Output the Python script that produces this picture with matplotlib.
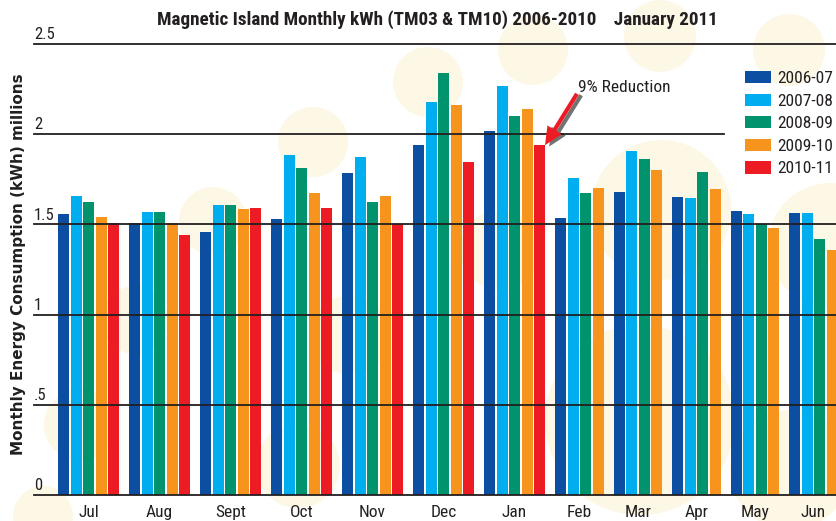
import matplotlib
matplotlib.use("Agg")
import matplotlib.pyplot as plt
from matplotlib import font_manager as fm
from matplotlib.patches import Ellipse
import matplotlib.patheffects as pe


def pick_font(cands):
    for c in cands:
        ws = set()
        for f in fm.fontManager.ttflist:
            if f.name == c and f.style == 'normal':
                try:
                    ws.add(int(f.weight))
                except (TypeError, ValueError):
                    ws.add(700 if 'bold' in str(f.weight) else 400)
        if 400 in ws and 700 in ws:
            return c
    return 'Liberation Sans'


NARROW = pick_font(['Roboto Condensed', 'PT Sans Narrow', 'Asap Condensed',
                    'Barlow Condensed', 'Liberation Sans Narrow'])

# ---------------- data ----------------
months = ['Jul', 'Aug', 'Sept', 'Oct', 'Nov', 'Dec', 'Jan', 'Feb', 'Mar', 'Apr', 'May', 'Jun']
series_labels = ['2006-07', '2007-08', '2008-09', '2009-10', '2010-11']
s2006_07 = [1.556, 1.506, 1.456, 1.528, 1.783, 1.939, 2.017, 1.533, 1.678, 1.650, 1.572, 1.561]
s2007_08 = [1.656, 1.567, 1.606, 1.883, 1.872, 2.178, 2.267, 1.756, 1.906, 1.644, 1.556, 1.561]
s2008_09 = [1.622, 1.567, 1.606, 1.811, 1.622, 2.339, 2.100, 1.672, 1.861, 1.789, 1.500, 1.417]
s2009_10 = [1.539, 1.506, 1.583, 1.672, 1.656, 2.161, 2.139, 1.700, 1.800, 1.694, 1.478, 1.356]
s2010_11 = [1.506, 1.439, 1.589, 1.589, 1.500, 1.844, 1.939, None, None, None, None, None]
ytick_values = [0, 0.5, 1, 1.5, 2, 2.5]
ytick_labels = ['0', '.5', '1', '1.5', '2', '2.5']
title = 'Magnetic Island Monthly kWh (TM03 & TM10) 2006-2010    January 2011'
ylabel = 'Monthly Energy Consumption (kWh) millions'
annotation = '9% Reduction'

colors = ['#0C4FA2', '#00AEEF', '#00936E', '#F7941D', '#ED1C24']
TXT = '#231F20'
series = [s2006_07, s2007_08, s2008_09, s2009_10, s2010_11]

# ---------------- figure ----------------
W, H = 836, 521
fig = plt.figure(figsize=(W / 100, H / 100), dpi=100)
fig.patch.set_facecolor('white')

# decorative pale circles (background)
circ = [(428, 82, 35), (533, 50, 35), (660, 36, 36), (789, 50, 36), (313, 142, 35),
        (213, 221, 34), (661, 210, 70), (830, 245, 62), (135, 320, 34), (80, 425, 36),
        (298, 466, 42), (43, 516, 30), (500, 250, 40), (350, 335, 40), (640, 420, 95),
        (790, 470, 60)]
for cx, cy, r in circ:
    fig.patches.append(Ellipse((cx / W, 1 - cy / H), 2 * r / W, 2 * r / H,
                               transform=fig.transFigure, facecolor='#FDF7E6',
                               edgecolor='none', zorder=-10))

ax_left, ax_right, ax_bottom, ax_top = 34, 836, 495, 44
ax = fig.add_axes([ax_left / W, 1 - ax_bottom / H, (ax_right - ax_left) / W,
                   (ax_bottom - ax_top) / H])
ax.set_facecolor('none')

BW = 0.88
GAP = 0.68
xpos = [[] for _ in series]
hts = [[] for _ in series]
centers = []
x = 0.0
bar_left = {}
for i, m in enumerate(months):
    start = x
    n = 0
    for k, s in enumerate(series):
        if s[i] is None:
            continue
        xpos[k].append(x + BW / 2)
        hts[k].append(s[i])
        bar_left[(i, k)] = x
        x += 1
        n += 1
    centers.append(start + ((n - 1) + BW) / 2)
    x += GAP

for k in range(len(series)):
    ax.bar(xpos[k], hts[k], width=BW, color=colors[k], label=series_labels[k],
           zorder=2, linewidth=0)

ax.set_xlim((ax_left - 58) / 12.5, (ax_right - 58) / 12.5)
ax.set_ylim(0, 2.5)

# horizontal rules
for v in ytick_values:
    xmax = 0.86 if v == 2 else 1.0
    ax.axhline(v, xmin=0, xmax=xmax, color=TXT, lw=1.3, zorder=3, clip_on=False)
for v, lbl in zip(ytick_values, ytick_labels):
    ax.annotate(lbl, xy=(0, v), xycoords=ax.get_yaxis_transform(), xytext=(0, 3.5),
                textcoords='offset points', ha='left', va='baseline',
                fontsize=12, family=NARROW, color=TXT)

for sp in ax.spines.values():
    sp.set_visible(False)
ax.set_yticks([])
ax.set_xticks(centers)
ax.set_xticklabels(months, fontsize=12.5, family=NARROW, color=TXT)
ax.tick_params(axis='x', length=0, pad=7)

# legend
leg = ax.legend(loc='upper left', bbox_to_anchor=((745 - ax_left) / (ax_right - ax_left),
                (ax_bottom - 71) / (ax_bottom - ax_top)),
                frameon=False, borderpad=0, borderaxespad=0,
                handlelength=1.5, handleheight=0.72, handletextpad=0.35,
                labelspacing=0.42, prop={'family': NARROW, 'size': 12.5})
for t in leg.get_texts():
    t.set_color(TXT)

# annotation arrow to the Jan 2010-11 bar
ji = months.index('Jan')
tip_x = bar_left[(ji, 4)] + BW
tip_y = s2010_11[ji]
ax.annotate('', xy=(tip_x, tip_y), xytext=(23, 37), textcoords='offset points',
            arrowprops=dict(arrowstyle='simple,head_width=1.2,head_length=1.3,tail_width=0.3',
                            facecolor='#ED1C24', edgecolor='none', shrinkA=0, shrinkB=0,
                            path_effects=[pe.SimplePatchShadow(offset=(3, -1), shadow_rgbFace='black', alpha=0.55),
                                          pe.Normal()]),
            zorder=5)
ax.annotate(annotation, xy=(tip_x, tip_y), xytext=(24, 38), textcoords='offset points',
            ha='left', va='baseline', fontsize=12.5, family=NARROW, color=TXT, zorder=5)

# title and y label
fig.text(437 / W, 1 - 20 / H, title, ha='center', va='center', fontsize=13.8,
         weight='bold', family=NARROW, color=TXT)
fig.text(19 / W, 1 - 264 / H, ylabel, rotation=90, ha='center', va='center',
         fontsize=11, weight='bold', family='DejaVu Sans', color=TXT)

fig.savefig('out.png', dpi=100)
